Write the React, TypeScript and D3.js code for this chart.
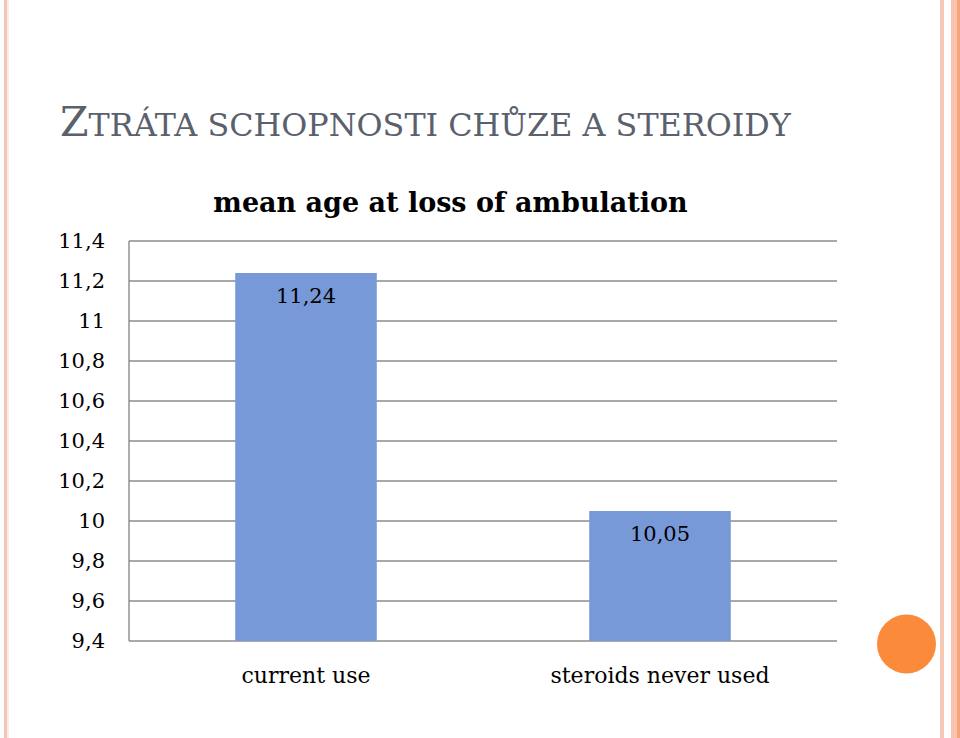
import React from "react";
import * as d3 from "d3";

const categories = ["current use", "steroids never used"];
const values = [11.24, 10.05];
const valueLabels = ["11,24", "10,05"];
const yTicks = [9.4, 9.6, 9.8, 10, 10.2, 10.4, 10.6, 10.8, 11, 11.2, 11.4];
const yTickLabels = ["9,4", "9,6", "9,8", "10", "10,2", "10,4", "10,6", "10,8", "11", "11,2", "11,4"];
const chartTitle = "mean age at loss of ambulation";
const slideTitleFirst = "Z";
const slideTitleRest = "TRÁTA SCHOPNOSTI CHŮZE A STEROIDY";

const W = 960;
const H = 738;
const plot = { left: 129, right: 837, top: 241, bottom: 641 };
const FONT = "'DejaVu Serif', serif";
const GRID = "#8c8c8c";
const BAR = "#7899d7";

export default function App() {
  const y = d3.scaleLinear().domain([9.4, 11.4]).range([plot.bottom, plot.top]);
  const x = d3
    .scaleBand<string>()
    .domain(categories)
    .range([plot.left, plot.right])
    .paddingInner(0.6)
    .paddingOuter(0.3);

  return (
    <svg
      width={W}
      height={H}
      viewBox={`0 0 ${W} ${H}`}
      style={{ position: "absolute", left: 0, top: 0, background: "#fff" }}
    >
      <rect x={0} y={0} width={W} height={H} fill="#fff" />
      {/* decorative borders */}
      <rect x={4} y={0} width={3} height={H} fill="#f6c4b2" />
      <rect x={7.5} y={0} width={1} height={H} fill="#fadcd0" />
      <rect x={940} y={0} width={4} height={H} fill="#f8c8b6" />
      <rect x={951} y={0} width={6} height={H} fill="#f9c3ad" />
      <rect x={957} y={0} width={3} height={H} fill="#f6a47e" />
      <circle cx={906.5} cy={644} r={29.5} fill="#fb8a3b" />

      {/* slide title */}
      <text x={60} y={136} fill="#5a616c" fontFamily={FONT} fontSize={41}>
        {slideTitleFirst}
        <tspan fontSize={31.8}>{slideTitleRest}</tspan>
      </text>

      {/* chart title */}
      <text
        x={450.5}
        y={212}
        textAnchor="middle"
        fontFamily={FONT}
        fontWeight="bold"
        fontSize={27}
        fill="#000"
      >
        {chartTitle}
      </text>

      {/* gridlines */}
      {yTicks.map((t) => (
        <line
          key={t}
          x1={plot.left}
          x2={plot.right}
          y1={y(t)}
          y2={y(t)}
          stroke={GRID}
          strokeWidth={1.4}
        />
      ))}
      <line x1={plot.left} x2={plot.left} y1={plot.top} y2={plot.bottom} stroke={GRID} strokeWidth={1.4} />

      {/* y tick labels */}
      {yTicks.map((t, i) => (
        <text
          key={"l" + t}
          x={105}
          y={y(t)}
          dy="0.35em"
          textAnchor="end"
          fontFamily={FONT}
          fontSize={21}
          fill="#000"
        >
          {yTickLabels[i]}
        </text>
      ))}

      {/* bars */}
      {categories.map((c, i) => (
        <rect
          key={c}
          x={x(c)}
          y={y(values[i])}
          width={x.bandwidth()}
          height={y(9.4) - y(values[i])}
          fill={BAR}
        />
      ))}

      {/* data labels */}
      {categories.map((c, i) => (
        <text
          key={"v" + c}
          x={(x(c) as number) + x.bandwidth() / 2}
          y={y(values[i]) + 30}
          textAnchor="middle"
          fontFamily={FONT}
          fontSize={21}
          fill="#000"
        >
          {valueLabels[i]}
        </text>
      ))}

      {/* category labels */}
      {categories.map((c) => (
        <text
          key={"c" + c}
          x={(x(c) as number) + x.bandwidth() / 2}
          y={683}
          textAnchor="middle"
          fontFamily={FONT}
          fontSize={22}
          fill="#000"
        >
          {c}
        </text>
      ))}
    </svg>
  );
}
